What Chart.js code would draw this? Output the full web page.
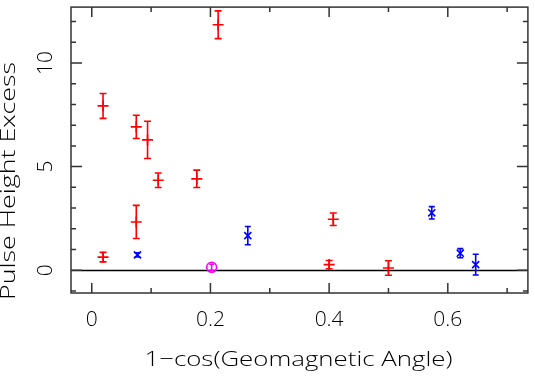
<!DOCTYPE html>
<html>
<head>
<meta charset="utf-8">
<script src="https://cdn.jsdelivr.net/npm/chart.js@4/dist/chart.umd.min.js"></script>
<style>
  html, body { margin: 0; padding: 0; background: #fff; }
  #wrap { width: 535px; height: 379px; }
</style>
</head>
<body>
<div id="wrap"><canvas id="chart" width="535" height="379"></canvas></div>
<script>
// values
const redX = [0.019, 0.019, 0.075, 0.094, 0.112, 0.177, 0.075, 0.213, 0.407, 0.400, 0.500]
const redY = [7.93, 0.63, 6.92, 6.29, 4.34, 4.41, 2.33, 11.85, 2.46, 0.27, 0.11]
const redErr = [0.6, 0.23, 0.56, 0.9, 0.35, 0.42, 0.8, 0.67, 0.3, 0.2, 0.35]

const blueX = [0.077, 0.263, 0.573, 0.621, 0.647]
const blueY = [0.74, 1.67, 2.77, 0.82, 0.27]
const blueErr = [0.1, 0.44, 0.3, 0.22, 0.5]

const magX = [0.202]
const magY = [0.14]
const magErr = [0.15]

const xTicks = [0, 0.2, 0.4, 0.6]
const xMinor = [0.1, 0.3, 0.5, 0.7]
const yTicks = [0, 5, 10]
const yMinor = [-1, 1, 2, 3, 4, 6, 7, 8, 9, 11, 12]

const xTitle = '1\u2212cos(Geomagnetic Angle)'
const yTitle = 'Pulse Height Excess'

const FONT = "'Open Sans', 'DejaVu Sans', sans-serif"
const AXIS = '#333'

const toPoints = (xs, ys) => xs.map((x, i) => ({ x, y: ys[i] }))

// text stretched sideways to the wide plotting font of the original
const stretchText = (ctx, text, cx, cy, width, angle) => {
  ctx.save()
  ctx.translate(cx, cy)
  ctx.rotate(angle)
  const w = ctx.measureText(text).width
  ctx.scale(width / w, 1)
  ctx.fillText(text, 0, 0)
  ctx.restore()
}

// error bars, frame, inward ticks and the zero line
const plotExtras = {
  id: 'plotExtras',
  beforeDatasetsDraw(chart) {
    const { ctx, chartArea: a, scales: { x, y } } = chart
    ctx.save()
    // zero line
    ctx.strokeStyle = '#000'
    ctx.lineWidth = 1.5
    const y0 = Math.round(y.getPixelForValue(0)) + 0.5
    ctx.beginPath()
    ctx.moveTo(a.left, y0)
    ctx.lineTo(a.right, y0)
    ctx.stroke()

    // error bars
    chart.data.datasets.forEach((ds) => {
      ctx.strokeStyle = ds.borderColor
      ctx.lineWidth = 1.6
      ds.points.forEach((p, i) => {
        const px = x.getPixelForValue(p.x)
        const top = y.getPixelForValue(p.y + ds.err[i])
        const bot = y.getPixelForValue(p.y - ds.err[i])
        const cap = ds.cap
        ctx.beginPath()
        ctx.moveTo(px, top)
        ctx.lineTo(px, bot)
        ctx.moveTo(px - cap, top)
        ctx.lineTo(px + cap, top)
        ctx.moveTo(px - cap, bot)
        ctx.lineTo(px + cap, bot)
        ctx.stroke()
      })
    })
    ctx.restore()
  },
  afterDraw(chart) {
    const { ctx, chartArea: a, scales: { x, y } } = chart
    ctx.save()
    ctx.strokeStyle = AXIS
    ctx.lineWidth = 1.5
    ctx.strokeRect(a.left, a.top, a.right - a.left, a.bottom - a.top)

    ctx.beginPath()
    const xt = (v, len) => {
      const px = x.getPixelForValue(v)
      ctx.moveTo(px, a.bottom); ctx.lineTo(px, a.bottom - len)
      ctx.moveTo(px, a.top); ctx.lineTo(px, a.top + len)
    }
    const yt = (v, len) => {
      const py = y.getPixelForValue(v)
      ctx.moveTo(a.left, py); ctx.lineTo(a.left + len, py)
      ctx.moveTo(a.right, py); ctx.lineTo(a.right - len, py)
    }
    xTicks.forEach(v => xt(v, 10))
    xMinor.forEach(v => xt(v, 5))
    yTicks.forEach(v => yt(v, 11))
    yMinor.forEach(v => yt(v, 5))
    ctx.stroke()

    // rotated y tick labels and axis titles
    ctx.fillStyle = '#000'
    ctx.textAlign = 'center'
    ctx.textBaseline = 'middle'
    ctx.font = `300 21px ${FONT}`
    yTicks.forEach(v => {
      ctx.save()
      ctx.translate(46, y.getPixelForValue(v))
      ctx.rotate(-Math.PI / 2)
      ctx.fillText(String(v), 0, 0)
      ctx.restore()
    })
    stretchText(ctx, yTitle, 9, 181, 238, -Math.PI / 2)
    stretchText(ctx, xTitle, (a.left + a.right) / 2 - 1, 360, 308, 0)
    ctx.restore()
  }
}

const makeSet = (xs, ys, err, color, style, radius, cap) => ({
  data: toPoints(xs, ys),
  points: toPoints(xs, ys),
  err,
  cap,
  borderColor: color,
  backgroundColor: 'rgba(0,0,0,0)',
  pointStyle: style,
  pointRadius: radius,
  pointHoverRadius: radius,
  pointBorderWidth: 1.6,
  showLine: false
})

new Chart(document.getElementById('chart'), {
  type: 'scatter',
  data: {
    datasets: [
      makeSet(redX, redY, redErr, '#ff0000', 'cross', 5.5, 3.5),
      makeSet(blueX, blueY, blueErr, '#0000ff', 'crossRot', 5, 3),
      makeSet(magX, magY, magErr, '#ff00ff', 'circle', 5, 2.5)
    ]
  },
  options: {
    responsive: false,
    animation: false,
    events: [],
    layout: { padding: { top: 1, right: 2, left: 0, bottom: 0 } },
    plugins: { legend: { display: false }, tooltip: { enabled: false } },
    scales: {
      x: {
        type: 'linear',
        min: -0.035,
        max: 0.735,
        afterBuildTicks: (s) => { s.ticks = xTicks.map(v => ({ value: v })) },
        afterFit: (s) => { s.height = 86 },
        grid: { display: false, drawTicks: false },
        border: { display: false },
        ticks: {
          padding: 14,
          color: '#000',
          font: { family: FONT, size: 21, weight: 300 },
          maxRotation: 0,
          callback: (v) => String(v)
        },
        title: { display: false }
      },
      y: {
        type: 'linear',
        min: -1.1,
        max: 12.7,
        afterBuildTicks: (s) => { s.ticks = yTicks.map(v => ({ value: v })) },
        afterFit: (s) => { s.width = 71 },
        grid: { display: false, drawTicks: false },
        border: { display: false },
        ticks: { display: false }
      }
    }
  },
  plugins: [plotExtras]
})
</script>
</body>
</html>
